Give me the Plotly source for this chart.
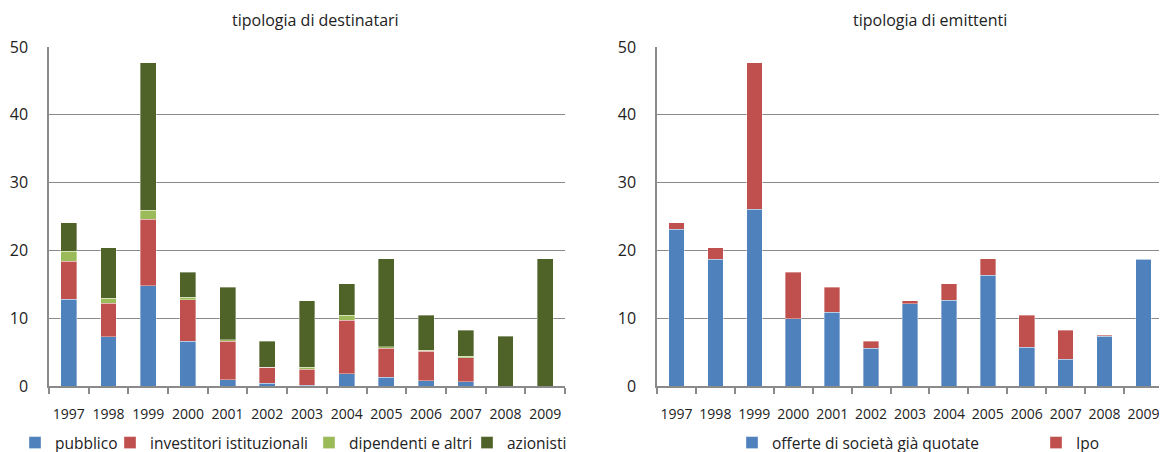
import plotly.graph_objects as go

# the page body has an 8px margin, so the figure is drawn 8px smaller and
# every pixel position below is given in screen coordinates minus that offset
OFF = 8
W, H = 1167 - OFF, 452 - OFF

years = ['1997', '1998', '1999', '2000', '2001', '2002', '2003',
         '2004', '2005', '2006', '2007', '2008', '2009']

# tipologia di destinatari (stacked)
pubblico = [12.8, 7.3, 14.8, 6.6, 0.95, 0.4, 0.1, 1.8, 1.3, 0.75, 0.65, 0, 0]
investitori = [5.6, 4.9, 9.8, 6.1, 5.65, 2.35, 2.4, 7.9, 4.3, 4.35, 3.5, 0, 0]
dipendenti = [1.5, 0.75, 1.35, 0.4, 0.25, 0.05, 0.25, 0.7, 0.2, 0.2, 0.25, 0, 0]
azionisti = [4.2, 7.45, 21.75, 3.65, 7.75, 3.8, 9.85, 4.7, 12.95, 5.1, 3.8, 7.35, 18.75]

# tipologia di emittenti (stacked)
offerte = [23.15, 18.7, 26.05, 9.95, 10.85, 5.55, 12.15, 12.65, 16.3, 5.75, 3.95, 7.35, 18.7]
ipo = [0.95, 1.7, 21.65, 6.8, 3.75, 1.05, 0.45, 2.45, 2.45, 4.65, 4.25, 0.15, 0.1]

BLUE = '#4F81BD'
RED = '#C0504D'
LGREEN = '#9BBB59'
DGREEN = '#4F6228'
GRID = '#8a8a8a'
FONT = 'Open Sans'
edge = dict(color='rgba(255,255,255,0.45)', width=0.8)


def px_x(p):
    return (p - OFF) / W


def px_y(p):
    return (H - (p - OFF)) / H


fig = go.Figure()

# (name, values, colour, legend id, screen x where the legend text starts)
left = [('pubblico', pubblico, BLUE, 'legend', 55),
        ('investitori istituzionali', investitori, RED, 'legend2', 150),
        ('dipendenti e altri', dipendenti, LGREEN, 'legend3', 349),
        ('azionisti', azionisti, DGREEN, 'legend4', 507)]
right = [('offerte di società già quotate', offerte, BLUE, 'legend5', 772),
         ('Ipo', ipo, RED, 'legend6', 1076)]

for name, vals, col, lg, _ in left:
    fig.add_trace(go.Bar(x=years, y=vals, name=name, marker=dict(color=col, line=edge),
                         xaxis='x', yaxis='y', legend=lg, showlegend=True))
for name, vals, col, lg, _ in right:
    fig.add_trace(go.Bar(x=years, y=vals, name=name, marker=dict(color=col, line=edge),
                         xaxis='x2', yaxis='y2', legend=lg, showlegend=True))

legends = {}
for name, vals, col, lg, tx in left + right:
    legends[lg] = dict(x=px_x(tx - 40), y=px_y(443), xref='container', yref='container',
                       xanchor='left', yanchor='middle', orientation='h',
                       bgcolor='rgba(0,0,0,0)',
                       font=dict(family=FONT, size=15.5, color='#222'))

xcommon = dict(type='category', showline=True, linecolor=GRID, linewidth=1.5,
               ticks='outside', tickson='boundaries', ticklen=6, tickcolor=GRID,
               tickwidth=1.5, showgrid=False, ticklabelstandoff=14, tickangle=0,
               automargin=False, tickfont=dict(family=FONT, size=14, color='#222'))
ycommon = dict(range=[0, 50], dtick=10, showline=True, linecolor=GRID, linewidth=1.5,
               showgrid=True, gridcolor=GRID, gridwidth=1.2, zeroline=False, ticks='',
               automargin=False, ticklabelstandoff=16,
               tickfont=dict(family=FONT, size=16, color='#222'))

fig.update_layout(
    width=W, height=H,
    margin=dict(l=0, r=0, t=0, b=0, autoexpand=False),
    paper_bgcolor='white', plot_bgcolor='white',
    barmode='stack', bargap=0.6,
    xaxis=dict(domain=[px_x(49), px_x(565)], anchor='y', **xcommon),
    yaxis=dict(domain=[px_y(386), px_y(47)], anchor='x', **ycommon),
    xaxis2=dict(domain=[px_x(657), px_x(1163)], anchor='y2', **xcommon),
    yaxis2=dict(domain=[px_y(386), px_y(47)], anchor='x2', **ycommon),
    annotations=[
        dict(text='tipologia di destinatari', x=px_x(315), y=px_y(20), xref='paper',
             yref='paper', xanchor='center', yanchor='middle', showarrow=False,
             font=dict(family=FONT, size=16, color='#222')),
        dict(text='tipologia di emittenti', x=px_x(930), y=px_y(20), xref='paper',
             yref='paper', xanchor='center', yanchor='middle', showarrow=False,
             font=dict(family=FONT, size=16, color='#222')),
    ],
    **legends
)

fig.write_html('out.html')
